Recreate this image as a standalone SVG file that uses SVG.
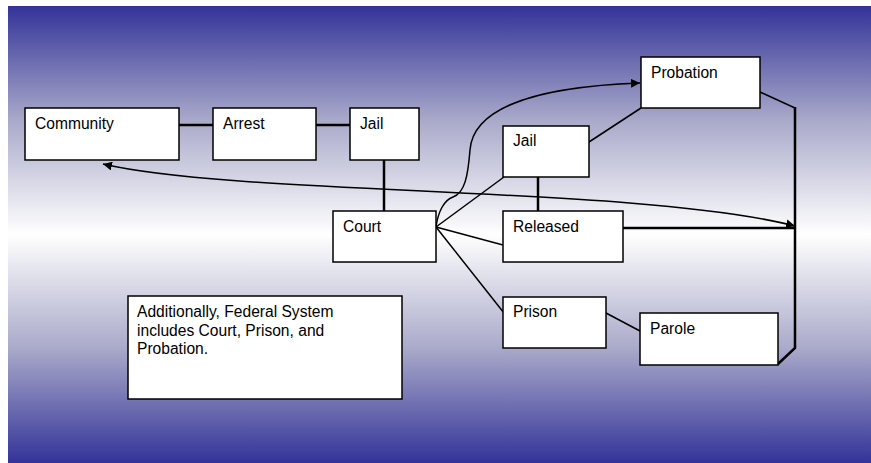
<svg xmlns="http://www.w3.org/2000/svg" width="871" height="463" viewBox="0 0 871 463">
<defs>
<linearGradient id="bg" x1="0" y1="0" x2="0" y2="1">
<stop offset="0" stop-color="#333399"/>
<stop offset="0.25" stop-color="#a9a9ca"/>
<stop offset="0.5" stop-color="#ffffff"/>
<stop offset="0.75" stop-color="#a9a9ca"/>
<stop offset="1" stop-color="#333399"/>
</linearGradient>
<marker id="arr" viewBox="0 0 10 10" refX="10" refY="5" markerWidth="9" markerHeight="9" markerUnits="userSpaceOnUse" orient="auto-start-reverse">
<path d="M0,0 L10,5 L0,10 Z" fill="#000"/>
</marker>
<style>
.box{fill:#fff;stroke:#000;stroke-width:1.5}
.t{font-family:"Liberation Sans",Arial,sans-serif;font-size:15.6px;fill:#000}
.c{fill:none;stroke:#000;stroke-width:1.5}
.k{fill:none;stroke:#000;stroke-width:2.5}
</style>
</defs>
<rect x="0" y="0" width="871" height="463" fill="#fff"/>
<rect x="8" y="6" width="863" height="457" fill="url(#bg)"/>
<g id="connectors">
<line class="k" x1="179" y1="125" x2="213" y2="125"/>
<line class="k" x1="316" y1="125" x2="350" y2="125"/>
<line class="k" x1="384" y1="160" x2="384" y2="211"/>
<line class="k" x1="538" y1="177" x2="538" y2="211"/>
<line class="c" x1="589" y1="142" x2="641" y2="108"/>
<line class="c" x1="436" y1="227" x2="504" y2="177"/>
<line class="c" x1="436" y1="227" x2="503" y2="245"/>
<line class="c" x1="436" y1="227" x2="504" y2="313"/>
<line class="c" x1="606" y1="313" x2="640" y2="331"/>
<line class="k" x1="623" y1="228" x2="795" y2="228"/>
<polyline class="c" points="760,92 795,108"/>
<polyline class="k" points="795,107 795,348 778,364"/>
<path class="c" d="M103,164 C240,196 640,186 795,226" marker-start="url(#arr)" marker-end="url(#arr)"/>
<path class="c" d="M436,227 C438,212 444,200 453,197 C465,193 468,175 470,150 C473,110 530,87 640,83" marker-end="url(#arr)"/>
</g>
<g id="community"><rect class="box" x="25" y="108" width="154" height="52"/><text class="t" x="35" y="129">Community</text></g>
<g id="arrest"><rect class="box" x="213" y="108" width="103" height="52"/><text class="t" x="223" y="129">Arrest</text></g>
<g id="jail1"><rect class="box" x="350" y="108" width="69" height="52"/><text class="t" x="360" y="129">Jail</text></g>
<g id="court"><rect class="box" x="333" y="211" width="103" height="51"/><text class="t" x="343" y="232">Court</text></g>
<g id="jail2"><rect class="box" x="503" y="126" width="86" height="51"/><text class="t" x="513" y="146">Jail</text></g>
<g id="probation"><rect class="box" x="641" y="57" width="119" height="51"/><text class="t" x="651" y="78">Probation</text></g>
<g id="released"><rect class="box" x="503" y="211" width="120" height="51"/><text class="t" x="513" y="232">Released</text></g>
<g id="prison"><rect class="box" x="503" y="297" width="103" height="51"/><text class="t" x="513" y="317">Prison</text></g>
<g id="parole"><rect class="box" x="640" y="313" width="138" height="52"/><text class="t" x="650" y="334">Parole</text></g>
<g id="note"><rect class="box" x="128" y="296" width="274" height="103"/>
<text class="t" x="137" y="317">Additionally, Federal System</text>
<text class="t" x="137" y="336">includes Court, Prison, and</text>
<text class="t" x="137" y="354">Probation.</text></g>
</svg>
